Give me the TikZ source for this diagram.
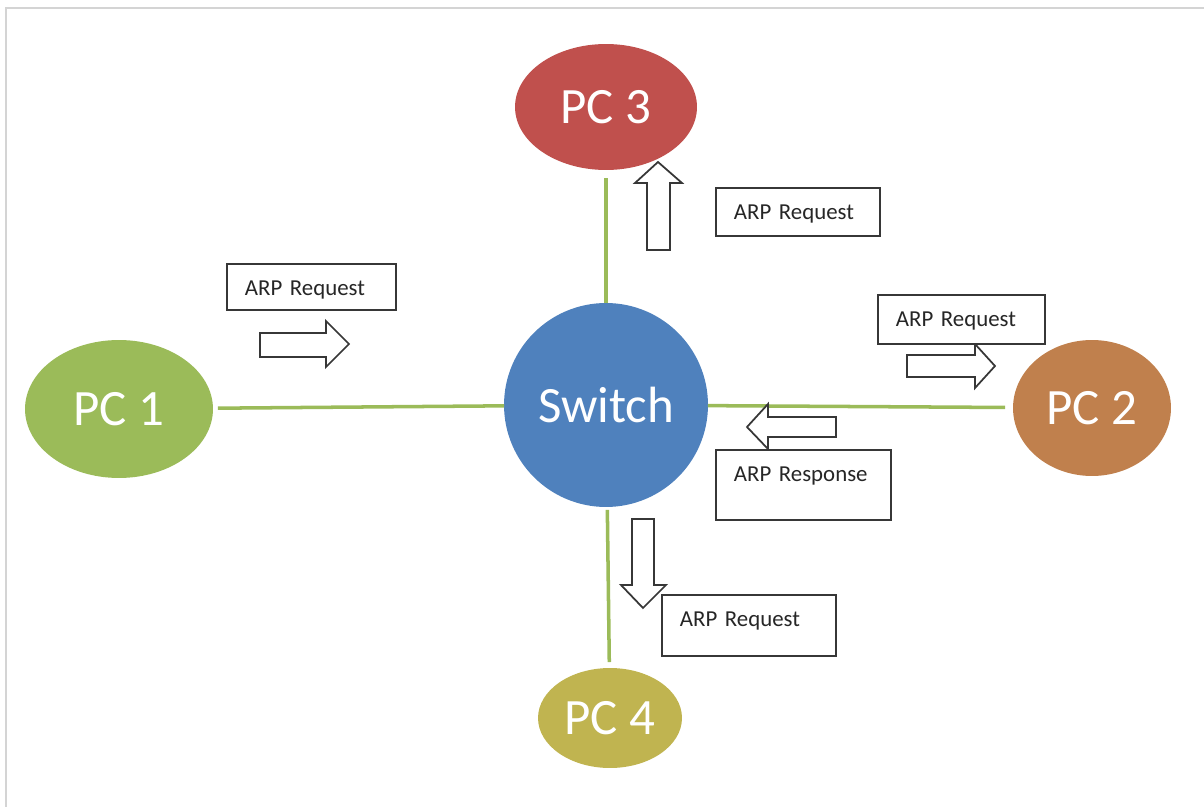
\documentclass[tikz,border=0pt]{standalone}
\usepackage{fontspec}
\setmainfont{Carlito}
\usetikzlibrary{shapes.geometric}

\definecolor{pcgreen}{RGB}{155,187,89}
\definecolor{pcred}{RGB}{192,80,77}
\definecolor{pcblue}{RGB}{79,129,189}
\definecolor{pcorange}{RGB}{192,128,77}
\definecolor{pcolive}{RGB}{192,180,80}
\definecolor{linkgreen}{RGB}{155,187,89}
\definecolor{boxgray}{RGB}{55,55,55}
\definecolor{framegray}{RGB}{212,212,212}

\tikzset{
  pc/.style={ellipse, inner sep=0pt, outer sep=0pt, text=white,
    font=\fontsize{29}{34}\selectfont},
  link/.style={draw=linkgreen, line width=2pt},
  msgbox/.style={draw=boxgray, line width=1pt, fill=white, anchor=north west,
    inner xsep=0.36cm, inner ysep=0pt, align=left, text height=0.64cm,
    text=black!85, font=\fontsize{13}{15}\selectfont},
  blockarr/.style={draw=boxgray, line width=1pt, fill=white, line join=miter}
}

\begin{document}
\begin{tikzpicture}[x=0.02cm,y=-0.02cm]
\useasboundingbox (0,0) rectangle (1204,807);
% frame
\draw[framegray, line width=0.04cm] (6,807) -- (6,8.5) -- (1204,8.5);

% machines
\node[pc, fill=pcblue, circle, minimum size=4.08cm] (sw) at (606,405) {Switch};
\node[pc, fill=pcgreen, minimum width=3.76cm, minimum height=2.76cm] (pc1) at (119,409) {PC 1};
\node[pc, fill=pcorange, minimum width=3.16cm, minimum height=2.72cm] (pc2) at (1092,408) {PC 2};
\node[pc, fill=pcred, minimum width=3.64cm, minimum height=2.52cm] (pc3) at (606,107) {PC 3};
\node[pc, fill=pcolive, minimum width=2.88cm, minimum height=2.0cm] (pc4) at (610,718) {PC 4};

% cables
\draw[link, shorten <=0.1cm] (pc1) -- (sw);
\draw[link, shorten >=0.16cm] (sw) -- (pc2);
\draw[link, shorten >=0.16cm] (sw) -- (pc3);
\draw[link, shorten <=0.06cm, shorten >=0.12cm] (sw) -- (pc4);

% frames in flight
\draw[blockarr] (260,333) -- (326,333) -- (326,321) -- (349,344) -- (326,367) -- (326,357) -- (260,357) -- cycle;
\draw[blockarr] (647,250) -- (647,183) -- (635,183) -- (658,162) -- (682,183) -- (670,183) -- (670,250) -- cycle;
\draw[blockarr] (907,355) -- (975,355) -- (975,344) -- (995,366) -- (975,388) -- (975,377) -- (907,377) -- cycle;
\draw[blockarr] (836,417) -- (768,417) -- (768,404) -- (747,427) -- (768,449) -- (768,437) -- (836,437) -- cycle;
\draw[blockarr] (632,519) -- (632,585) -- (621,585) -- (643,608) -- (666,585) -- (654,585) -- (654,519) -- cycle;

% labels
\node[msgbox, text width=2.66cm, text depth=0.28cm] (req1) at (226,263) {ARP Request};
\node[msgbox, text width=2.56cm, text depth=0.32cm] (req3) at (715,187) {ARP Request};
\node[msgbox, text width=2.62cm, text depth=0.34cm] (req2) at (877,294) {ARP Request};
\node[msgbox, text width=2.78cm, text depth=0.76cm] (resp2) at (715,449) {ARP Response};
\node[msgbox, text width=2.76cm, text depth=0.58cm] (req4) at (661,594) {ARP Request};
\end{tikzpicture}
\end{document}
